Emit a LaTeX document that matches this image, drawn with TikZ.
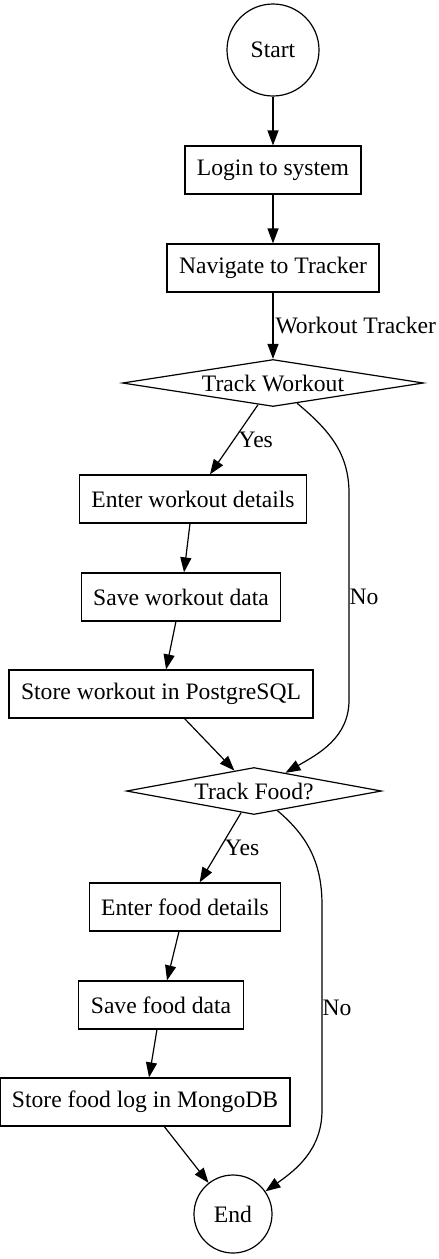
\documentclass[tikz,border=0pt]{standalone}
\usepackage{fontspec}
\setmainfont{Liberation Serif}
\usetikzlibrary{shapes.geometric,arrows.meta}
\begin{document}
\begin{tikzpicture}[x=0.5pt, y=-0.5pt, line width=0.6pt, >={Triangle[length=7.5pt,width=5.5pt]},
    every node/.style={font=\fontsize{11.8}{14}\selectfont},
    box/.style={draw,rectangle,minimum height=24pt,inner xsep=6pt},
    dec/.style={draw,diamond,aspect=6.4,inner sep=0pt,minimum height=23.5pt},
    term/.style={draw,circle,inner sep=0pt}]
  \useasboundingbox (0,0) rectangle (439,1259);
    \node [term,minimum size=46pt] (start) at (273,50) {Start};
    \node [box] (login) at (273,170) {Login to system};
    \node [box] (nav) at (273,268) {Navigate to Tracker};
    \node [dec,minimum width=150.5pt] (tw) at (273,383) {Track Workout};
    \node [box] (ewd) at (193,499) {Enter workout details};
    \node [box] (swd) at (181,597) {Save workout data};
    \node [box] (sw) at (161,694) {Store workout in PostgreSQL};
    \node [dec,minimum width=127.5pt] (tf) at (254,791) {Track Food?};
    \node [box] (efd) at (185,907) {Enter food details};
    \node [box] (sfd) at (161,1005) {Save food data};
    \node [box] (sf) at (145,1102) {Store food log in MongoDB};
    \node [term,minimum size=39pt] (stop) at (233,1214) {End};
    \coordinate (n1) at (349,493);
    \coordinate (n2) at (349,700);
    \coordinate (n3) at (322,905);
    \coordinate (n4) at (322,1110);
  \draw [->] (start) -- (login);
  \draw [->] (login) -- (nav);
  \draw [->] (nav) -- node [right,inner sep=1pt] {Workout Tracker} (tw);
  \draw [->] (tw) -- node [right,inner sep=2pt] {Yes} (ewd);
  \draw [->] (ewd) -- (swd);
  \draw [->] (swd) -- (sw);
  \draw [->] (sw) -- (tf);
  \draw [->] (tw) to [out=-40,in=90] (n1) -- node [right,inner sep=0pt] {No} (n2) to [out=-90,in=30] (tf);
  \draw [->] (tf) -- node [right,inner sep=2pt] {Yes} (efd);
  \draw [->] (efd) -- (sfd);
  \draw [->] (sfd) -- (sf);
  \draw [->] (sf) -- (stop);
  \draw [->] (tf) to [out=-40,in=90] (n3) -- node [right,inner sep=0pt] {No} (n4) to [out=-90,in=35] (stop);
\end{tikzpicture}
\end{document}
